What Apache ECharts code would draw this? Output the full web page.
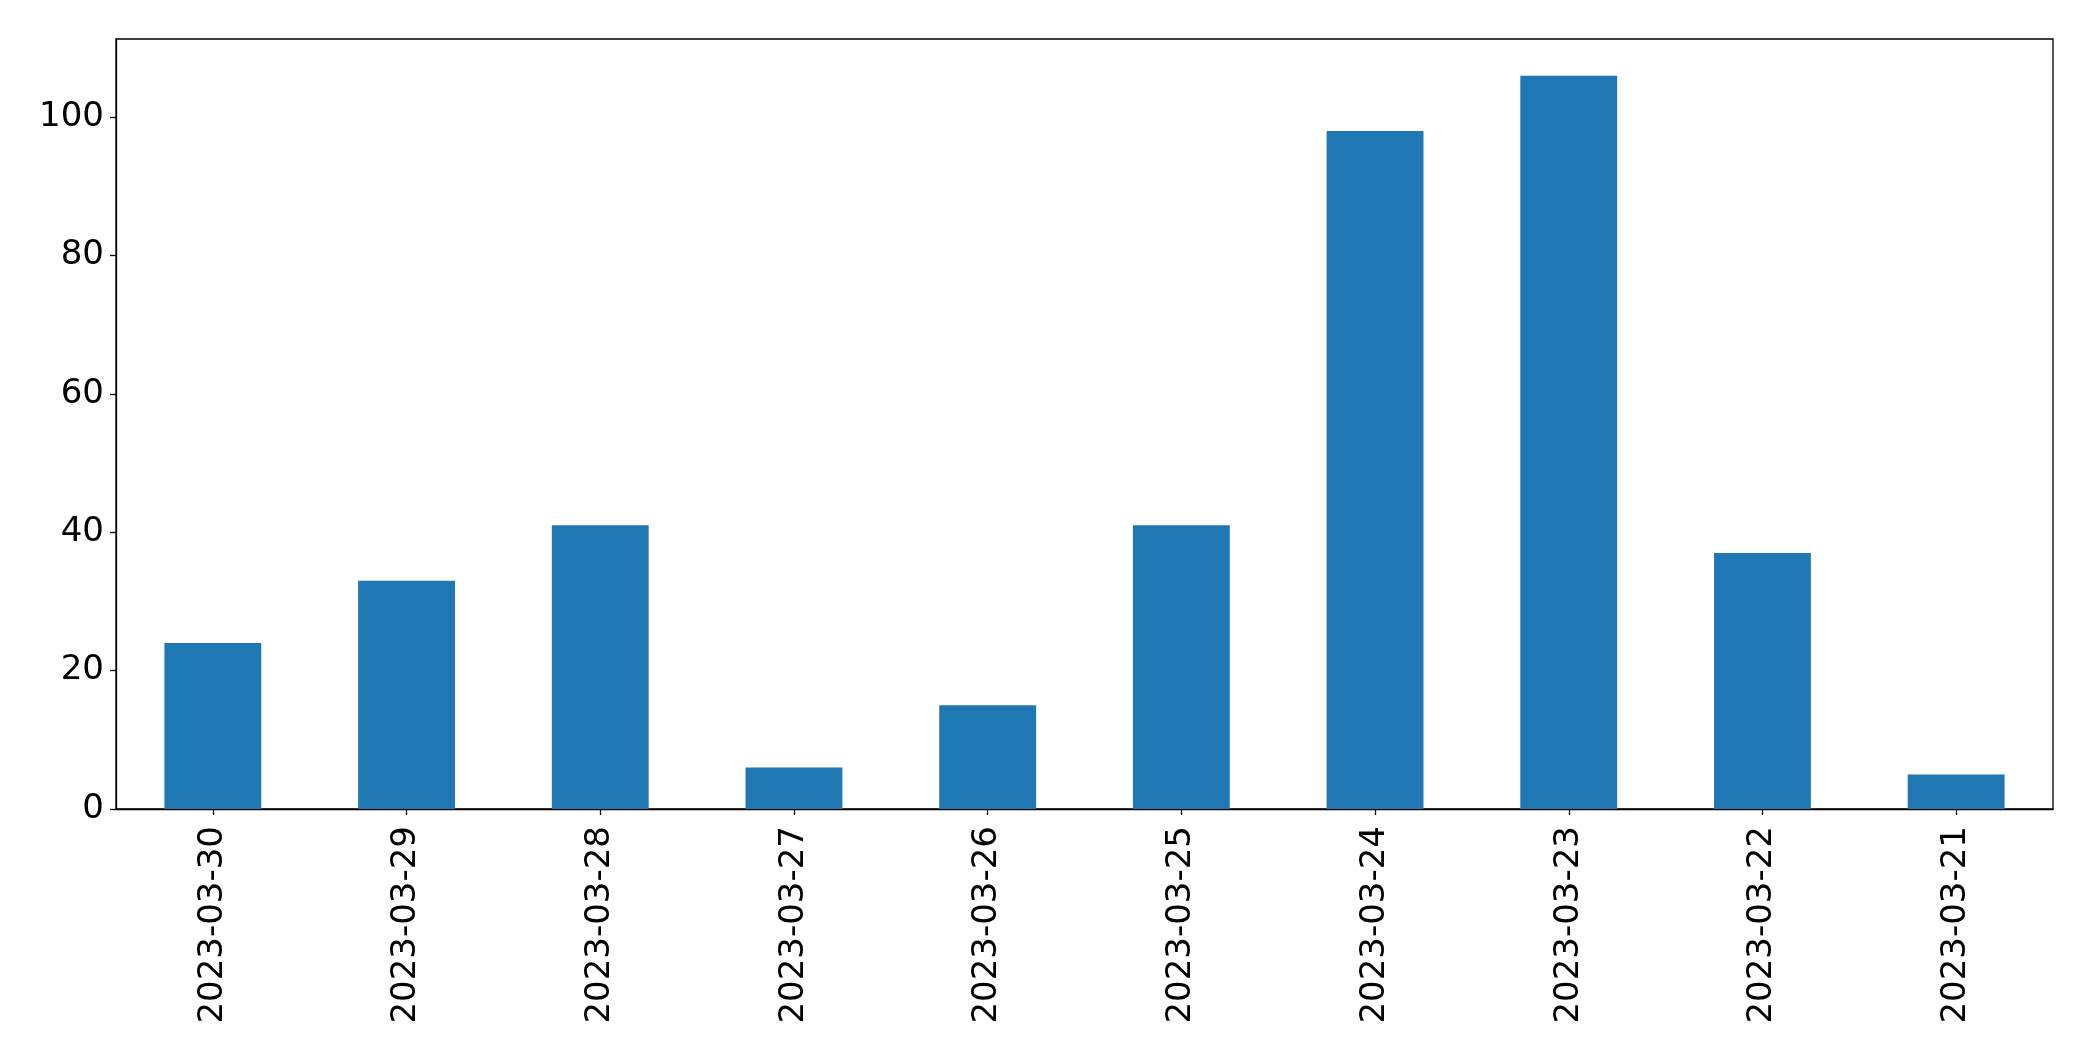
<!DOCTYPE html>
<html>
<head>
<meta charset="utf-8">
<script src="https://cdn.jsdelivr.net/npm/echarts@6/dist/echarts.min.js"></script>
<style>html,body{margin:0;padding:0;background:#fff;}#c{width:2093px;height:1061px;}</style>
</head>
<body>
<div id="c"></div>
<script>
const categories = ['2023-03-30','2023-03-29','2023-03-28','2023-03-27','2023-03-26','2023-03-25','2023-03-24','2023-03-23','2023-03-22','2023-03-21'];
const values = [24, 33, 41, 6, 15, 41, 98, 106, 37, 5];
const yTicks = [0, 20, 40, 60, 80, 100];

const chart = echarts.init(document.getElementById('c'), null, {renderer: 'canvas'});
const font = 'DejaVu Sans';
chart.setOption({
  animation: false,
  grid: {left: 116, top: 39, right: 40, bottom: 252, show: true, borderColor: '#000', borderWidth: 1.3, backgroundColor: 'transparent'},
  xAxis: {
    type: 'category',
    data: categories,
    boundaryGap: true,
    axisLine: {show: true, lineStyle: {color: '#000', width: 1.3}},
    axisTick: {show: true, alignWithLabel: true, length: 6, lineStyle: {color: '#000', width: 1.3}},
    axisLabel: {rotate: 90, fontSize: 34, fontFamily: font, color: '#000', margin: 17, interval: 0},
    splitLine: {show: false}
  },
  yAxis: {
    type: 'value',
    min: 0,
    max: 111.3,
    interval: 20,
    axisLine: {show: true, lineStyle: {color: '#000', width: 1.3}},
    axisTick: {show: true, length: 6, lineStyle: {color: '#000', width: 1.3}, customValues: yTicks},
    axisLabel: {fontSize: 34, fontFamily: font, color: '#000', margin: 12, customValues: yTicks},
    splitLine: {show: false}
  },
  series: [{
    type: 'bar',
    data: values,
    barWidth: '50%',
    itemStyle: {color: '#1f77b4'}
  }]
});
</script>
</body>
</html>
